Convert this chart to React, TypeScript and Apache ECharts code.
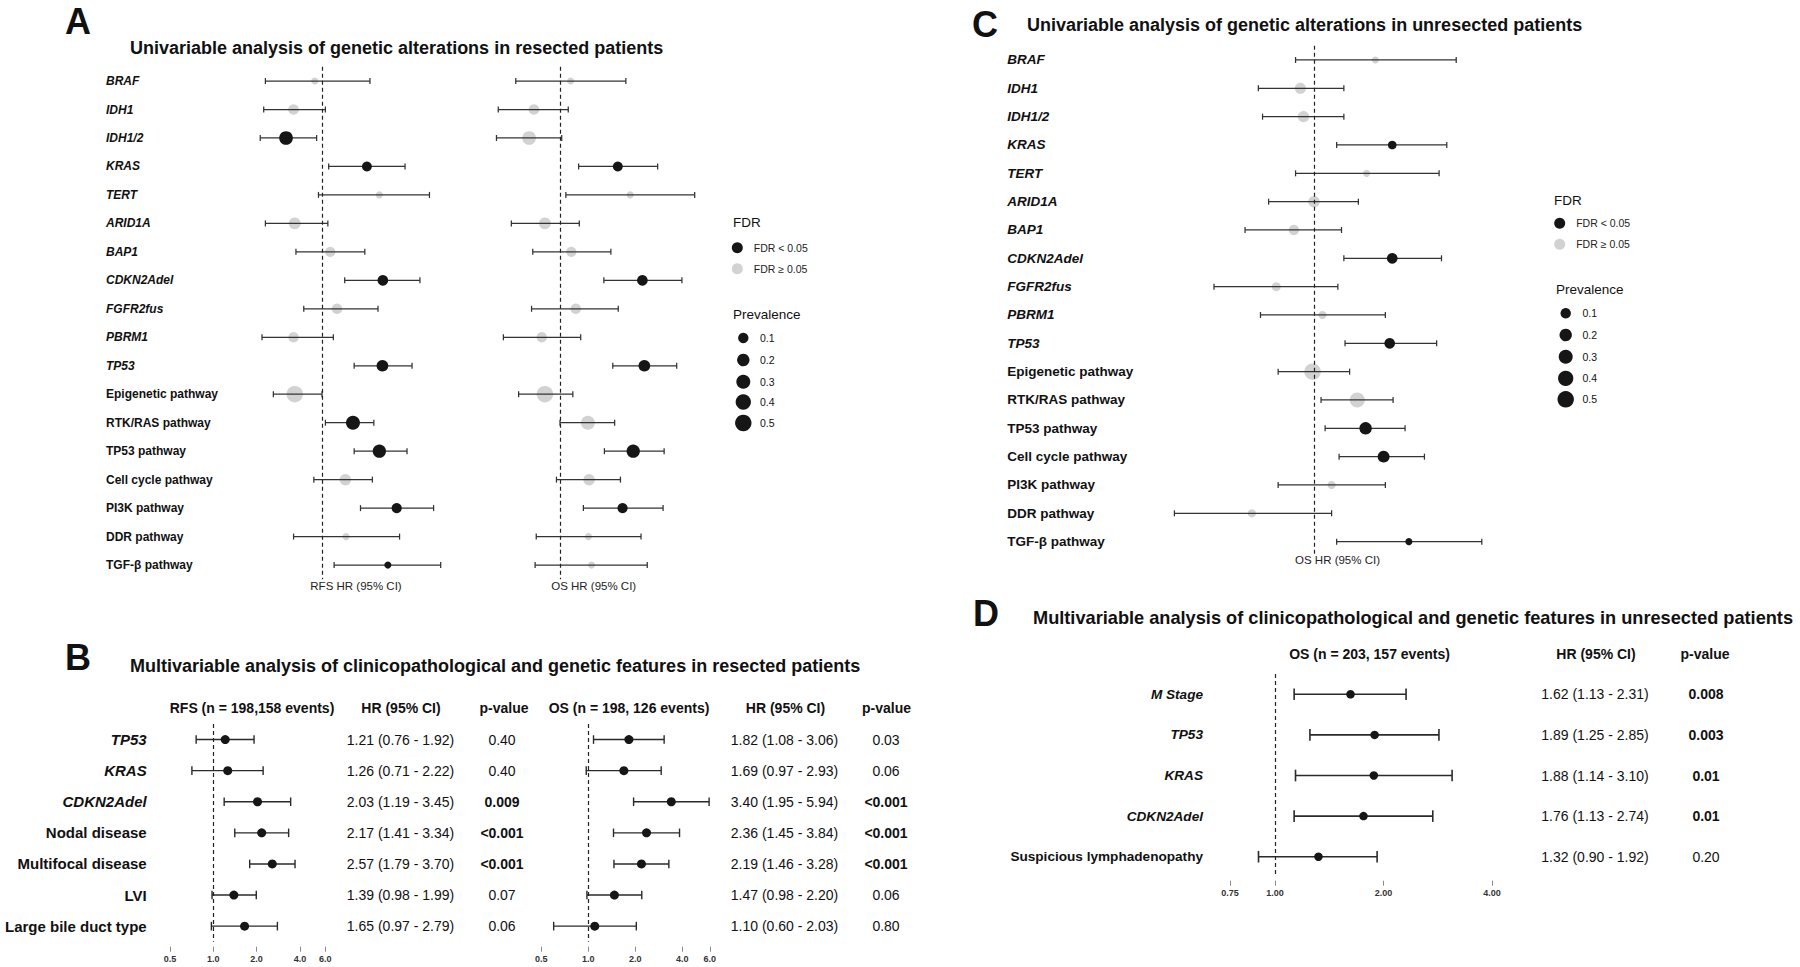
import React, { useEffect, useRef } from 'react';
import * as echarts from 'echarts';

const FONT = "'Liberation Sans', Arial, Helvetica, sans-serif";
const INK = '#111111';
const DOT_DARK = '#161616';
const DOT_GREY = '#d2d2d2';

// ---------------- Panel A : univariable, resected ----------------
const A_LABELS = ['BRAF', 'IDH1', 'IDH1/2', 'KRAS', 'TERT', 'ARID1A', 'BAP1', 'CDKN2Adel', 'FGFR2fus', 'PBRM1', 'TP53',
  'Epigenetic pathway', 'RTK/RAS pathway', 'TP53 pathway', 'Cell cycle pathway', 'PI3K pathway', 'DDR pathway', 'TGF-β pathway'];
const A_ITALIC = [1, 1, 1, 1, 1, 1, 1, 1, 1, 1, 1, 0, 0, 0, 0, 0, 0, 0];
const A_PREV = [0.01, 0.11, 0.28, 0.08, 0.01, 0.17, 0.09, 0.11, 0.1, 0.1, 0.16, 0.5, 0.3, 0.25, 0.15, 0.09, 0.01, 0.01];
const A_RFS_HR = [0.92, 0.72, 0.66, 1.68, 1.94, 0.73, 1.10, 2.02, 1.19, 0.72, 2.01, 0.73, 1.43, 1.94, 1.31, 2.37, 1.32, 2.14];
const A_RFS_LO = [0.52, 0.51, 0.49, 1.08, 0.96, 0.52, 0.74, 1.30, 0.81, 0.50, 1.45, 0.57, 1.04, 1.45, 0.91, 1.56, 0.72, 1.15];
const A_RFS_HI = [1.74, 1.04, 0.94, 2.61, 3.46, 1.07, 1.64, 3.10, 1.91, 1.14, 2.83, 1.00, 1.82, 2.67, 1.79, 3.63, 2.45, 3.94];
const A_RFS_SIG = [0, 0, 1, 1, 0, 0, 0, 1, 0, 0, 1, 0, 1, 1, 0, 1, 0, 1];
const A_OS_HR = [1.13, 0.74, 0.70, 1.95, 2.25, 0.84, 1.14, 2.59, 1.20, 0.81, 2.65, 0.84, 1.38, 2.33, 1.40, 2.06, 1.39, 1.44];
const A_OS_LO = [0.60, 0.49, 0.48, 1.24, 1.07, 0.57, 0.73, 1.66, 0.72, 0.52, 1.84, 0.62, 1.00, 1.67, 0.96, 1.31, 0.76, 0.75];
const A_OS_HI = [2.14, 1.10, 1.02, 3.09, 4.74, 1.25, 1.80, 4.09, 1.96, 1.27, 3.85, 1.16, 1.88, 3.33, 2.01, 3.29, 2.55, 2.74];
const A_OS_SIG = [0, 0, 0, 1, 0, 0, 0, 1, 0, 0, 1, 0, 0, 1, 0, 1, 0, 0];

// ---------------- Panel B : multivariable, resected ----------------
const B_LABELS = ['TP53', 'KRAS', 'CDKN2Adel', 'Nodal disease', 'Multifocal disease', 'LVI', 'Large bile duct type'];
const B_ITALIC = [1, 1, 1, 0, 0, 0, 0];
const B_RFS_HR = [1.21, 1.26, 2.03, 2.17, 2.57, 1.39, 1.65];
const B_RFS_LO = [0.76, 0.71, 1.19, 1.41, 1.79, 0.98, 0.97];
const B_RFS_HI = [1.92, 2.22, 3.45, 3.34, 3.70, 1.99, 2.79];
const B_RFS_P = ['0.40', '0.40', '0.009', '<0.001', '<0.001', '0.07', '0.06'];
const B_RFS_PBOLD = [0, 0, 1, 1, 1, 0, 0];
const B_OS_HR = [1.82, 1.69, 3.40, 2.36, 2.19, 1.47, 1.10];
const B_OS_LO = [1.08, 0.97, 1.95, 1.45, 1.46, 0.98, 0.60];
const B_OS_HI = [3.06, 2.93, 5.94, 3.84, 3.28, 2.20, 2.03];
const B_OS_P = ['0.03', '0.06', '<0.001', '<0.001', '<0.001', '0.06', '0.80'];
const B_OS_PBOLD = [0, 0, 1, 1, 1, 0, 0];
const B_TICKS = [0.5, 1, 2, 4, 6];

// ---------------- Panel C : univariable, unresected ----------------
const C_LABELS = A_LABELS;
const C_ITALIC = A_ITALIC;
const C_PREV = [0.01, 0.13, 0.14, 0.04, 0.01, 0.15, 0.1, 0.11, 0.05, 0.03, 0.11, 0.5, 0.38, 0.2, 0.17, 0.03, 0.03, 0.01];
const C_HR = [1.53, 0.91, 0.93, 1.72, 1.44, 1.00, 0.87, 1.72, 0.77, 1.06, 1.69, 0.99, 1.35, 1.43, 1.62, 1.13, 0.65, 1.93];
const C_LO = [0.88, 0.68, 0.70, 1.17, 0.88, 0.73, 0.62, 1.23, 0.50, 0.69, 1.24, 0.78, 1.05, 1.08, 1.19, 0.78, 0.38, 1.17];
const C_HI = [2.68, 1.23, 1.23, 2.51, 2.38, 1.36, 1.21, 2.42, 1.18, 1.64, 2.34, 1.28, 1.73, 1.88, 2.15, 1.64, 1.13, 3.20];
const C_SIG = [0, 0, 0, 1, 0, 0, 0, 1, 0, 0, 1, 0, 0, 1, 1, 0, 0, 1];

// ---------------- Panel D : multivariable, unresected ----------------
const D_LABELS = ['M Stage', 'TP53', 'KRAS', 'CDKN2Adel', 'Suspicious lymphadenopathy'];
const D_ITALIC = [1, 1, 1, 1, 0];
const D_HR = [1.62, 1.89, 1.88, 1.76, 1.32];
const D_LO = [1.13, 1.25, 1.14, 1.13, 0.90];
const D_HI = [2.31, 2.85, 3.10, 2.74, 1.92];
const D_P = ['0.008', '0.003', '0.01', '0.01', '0.20'];
const D_PBOLD = [1, 1, 1, 1, 0];
const D_TICKS = [0.75, 1, 2, 4];

const PREV_BREAKS = [0.1, 0.2, 0.3, 0.4, 0.5];

const sizeOf = (p: number) => 5.5 + 15.5 * Math.sqrt(p);
const hrText = (hr: number[], lo: number[], hi: number[]) =>
  hr.map((h, i) => `${h.toFixed(2)} (${lo[i].toFixed(2)} - ${hi[i].toFixed(2)})`);

function buildOption() {
  const grids: any[] = [];
  const xAxes: any[] = [];
  const yAxes: any[] = [];
  const series: any[] = [];

  function addForest(p: any) {
    const g = grids.length;
    const left = p.refX + p.k * Math.log2(p.min);
    const width = p.k * (Math.log2(p.max) - Math.log2(p.min));
    grids.push({ left, top: p.top, width, height: p.height });
    const mid = left + width / 2;
    const shift = p.xName ? p.xNameX - mid : 0;
    xAxes.push({
      type: 'log', logBase: 2, gridIndex: g, min: p.min, max: p.max, position: 'bottom',
      offset: p.tickOffset || 0,
      axisLine: { show: false }, splitLine: { show: false },
      axisTick: p.ticks
        ? { show: true, customValues: p.ticks, length: 5, lineStyle: { color: '#8a8a8a', width: 1 } }
        : { show: false },
      axisLabel: p.ticks
        ? {
          show: true, customValues: p.ticks, margin: p.tickMargin, fontSize: 9, fontWeight: 'bold',
          fontFamily: FONT, color: '#333',
          formatter: (v: any) => Number(v).toFixed(p.tickDigits),
        }
        : { show: false },
      name: p.xName || '', nameLocation: 'middle', nameGap: p.xNameGap || 0,
      nameTextStyle: {
        fontSize: 11.5, fontFamily: FONT, color: '#222',
        padding: shift >= 0 ? [0, 0, 0, 2 * shift] : [0, -2 * shift, 0, 0],
      },
    });
    const yMain = yAxes.length;
    const labStyle = (italic: boolean) => ({
      fontStyle: italic ? 'italic' : 'normal', fontWeight: 'bold', fontSize: p.labelSize, fontFamily: FONT, color: INK,
    });
    yAxes.push({
      type: 'category', gridIndex: g, inverse: true, data: p.labels, position: 'left',
      axisLine: { show: false }, axisTick: { show: false }, splitLine: { show: false },
      axisLabel: p.showLabels
        ? {
          show: true, interval: 0, margin: left - p.labelX, align: p.labelAlign,
          formatter: (v: string, i: number) => (p.italic[i] ? `{i|${v}}` : `{n|${v}}`),
          rich: { i: labStyle(true), n: labStyle(false) },
        }
        : { show: false },
    });
    (p.columns || []).forEach((col: any) => {
      yAxes.push({
        type: 'category', gridIndex: g, inverse: true, position: 'right', offset: col.center - (left + width),
        data: p.labels,
        axisLine: { show: false }, axisTick: { show: false }, splitLine: { show: false },
        axisLabel: {
          show: true, interval: 0, margin: 0, align: 'center',
          formatter: (_v: string, i: number) => (col.bold[i] ? `{b|${col.texts[i]}}` : `{n|${col.texts[i]}}`),
          rich: {
            b: { fontWeight: 'bold', fontSize: 14, fontFamily: FONT, color: INK },
            n: { fontWeight: 'normal', fontSize: 14, fontFamily: FONT, color: INK },
          },
        },
      });
    });

    const rows = p.hr.map((_h: number, i: number) => i);
    const dark = rows.filter((i: number) => !p.sig || p.sig[i]);
    const grey = rows.filter((i: number) => p.sig && !p.sig[i]);
    const sizeFor = (i: number) => (p.prev ? sizeOf(p.prev[i]) : p.dotSize);

    if (p.sig) {
      series.push({
        type: 'scatter', name: 'FDR ≥ 0.05', xAxisIndex: g, yAxisIndex: yMain, z: 1, silent: true,
        symbol: 'circle', itemStyle: { color: DOT_GREY, opacity: 1 }, emphasis: { disabled: true },
        data: grey.map((i: number) => ({ value: [p.hr[i], i], symbolSize: sizeFor(i) })),
      });
    }
    const cap = p.cap;
    const lw = p.lw;
    const stroke = p.lineColor;
    series.push({
      type: 'custom', name: 'CI', xAxisIndex: g, yAxisIndex: yMain, z: 2, silent: true,
      encode: { x: [0, 1], y: 2 },
      data: rows.map((i: number) => [p.lo[i], p.hi[i], i]),
      renderItem: (_params: any, api: any) => {
        const row = api.value(2);
        const a = api.coord([api.value(0), row]);
        const b = api.coord([api.value(1), row]);
        const style = { stroke, lineWidth: lw, fill: 'none' };
        return {
          type: 'group',
          children: [
            { type: 'line', shape: { x1: a[0], y1: a[1], x2: b[0], y2: b[1] }, style },
            { type: 'line', shape: { x1: a[0], y1: a[1] - cap, x2: a[0], y2: a[1] + cap }, style },
            { type: 'line', shape: { x1: b[0], y1: b[1] - cap, x2: b[0], y2: b[1] + cap }, style },
          ],
        };
      },
    });
    series.push({
      type: 'scatter', name: p.sig ? 'FDR < 0.05' : 'HR', xAxisIndex: g, yAxisIndex: yMain, z: 3, silent: true,
      symbol: 'circle', itemStyle: { color: DOT_DARK, opacity: 1 }, emphasis: { disabled: true },
      data: dark.map((i: number) => ({ value: [p.hr[i], i], symbolSize: sizeFor(i) })),
      markLine: {
        silent: true, symbol: ['none', 'none'], label: { show: false }, emphasis: { disabled: true },
        lineStyle: { color: '#222', width: 1.2, type: [4, 3] },
        data: [{ xAxis: 1 }],
      },
    });
  }

  // Panel A
  addForest({
    refX: 322, k: 60, min: 0.25, max: 8, top: 66.8, height: 512.5,
    labels: A_LABELS, italic: A_ITALIC, showLabels: true, labelX: 106, labelAlign: 'left', labelSize: 12,
    hr: A_RFS_HR, lo: A_RFS_LO, hi: A_RFS_HI, sig: A_RFS_SIG, prev: A_PREV,
    cap: 3, lw: 1.25, lineColor: '#333333',
    xName: 'RFS HR (95% CI)', xNameX: 356, xNameGap: 1,
  });
  addForest({
    refX: 560, k: 60, min: 0.25, max: 8, top: 66.8, height: 512.5,
    labels: A_LABELS, italic: A_ITALIC, showLabels: false,
    hr: A_OS_HR, lo: A_OS_LO, hi: A_OS_HI, sig: A_OS_SIG, prev: A_PREV,
    cap: 3, lw: 1.25, lineColor: '#333333',
    xName: 'OS HR (95% CI)', xNameX: 593.7, xNameGap: 1,
  });
  // Panel B
  addForest({
    refX: 213.3, k: 43.3, min: 0.4, max: 7, top: 724, height: 217.7,
    labels: B_LABELS, italic: B_ITALIC, showLabels: true, labelX: 146.7, labelAlign: 'right', labelSize: 15,
    hr: B_RFS_HR, lo: B_RFS_LO, hi: B_RFS_HI, dotSize: 9,
    cap: 4.3, lw: 1.4, lineColor: '#2a2a2a',
    ticks: B_TICKS, tickDigits: 1, tickOffset: 5, tickMargin: 8.2,
    columns: [
      { center: 400.5, texts: hrText(B_RFS_HR, B_RFS_LO, B_RFS_HI), bold: B_RFS_HR.map(() => 0) },
      { center: 502, texts: B_RFS_P, bold: B_RFS_PBOLD },
    ],
  });
  addForest({
    refX: 588.3, k: 47, min: 0.4, max: 7, top: 724, height: 217.7,
    labels: B_LABELS, italic: B_ITALIC, showLabels: false,
    hr: B_OS_HR, lo: B_OS_LO, hi: B_OS_HI, dotSize: 9,
    cap: 4.3, lw: 1.4, lineColor: '#2a2a2a',
    ticks: B_TICKS, tickDigits: 1, tickOffset: 5, tickMargin: 8.2,
    columns: [
      { center: 784.5, texts: hrText(B_OS_HR, B_OS_LO, B_OS_HI), bold: B_OS_HR.map(() => 0) },
      { center: 886, texts: B_OS_P, bold: B_OS_PBOLD },
    ],
  });
  // Panel C
  addForest({
    refX: 1314, k: 100, min: 0.35, max: 3.5, top: 45.83, height: 510,
    labels: C_LABELS, italic: C_ITALIC, showLabels: true, labelX: 1007.3, labelAlign: 'left', labelSize: 13.5,
    hr: C_HR, lo: C_LO, hi: C_HI, sig: C_SIG, prev: C_PREV,
    cap: 3, lw: 1.25, lineColor: '#333333',
    xName: 'OS HR (95% CI)', xNameX: 1337.5, xNameGap: -1.6,
  });
  // Panel D
  addForest({
    refX: 1275, k: 108.5, min: 0.7, max: 4.3, top: 674, height: 203,
    labels: D_LABELS, italic: D_ITALIC, showLabels: true, labelX: 1203, labelAlign: 'right', labelSize: 13.6,
    hr: D_HR, lo: D_LO, hi: D_HI, dotSize: 8.5,
    cap: 5.8, lw: 1.6, lineColor: '#2a2a2a',
    ticks: D_TICKS, tickDigits: 2, tickOffset: 3.7, tickMargin: 7.8,
    columns: [
      { center: 1595, texts: hrText(D_HR, D_LO, D_HI), bold: D_HR.map(() => 0) },
      { center: 1706, texts: D_P, bold: D_PBOLD },
    ],
  });

  const txt = (text: string, x: number, y: number, size: number, weight = 'normal', align = 'left') => ({
    type: 'text', x, y, silent: true,
    style: { text, fontSize: size, fontWeight: weight, fontFamily: FONT, fill: INK, align, verticalAlign: 'middle' },
  });

  const graphic: any[] = [
    txt('A', 65, 21, 36, 'bold'),
    txt('B', 65, 657, 36, 'bold'),
    txt('C', 972, 24, 36, 'bold'),
    txt('D', 973, 613, 36, 'bold'),
    txt('Univariable analysis of genetic alterations in resected patients', 130, 48, 18, 'bold'),
    txt('Multivariable analysis of clinicopathological and genetic features in resected patients', 130, 666, 18, 'bold'),
    txt('Univariable analysis of genetic alterations in unresected patients', 1027, 25, 18, 'bold'),
    txt('Multivariable analysis of clinicopathological and genetic features in unresected patients', 1033, 618, 18.2, 'bold'),
    txt('RFS (n = 198,158 events)', 252, 707.7, 14, 'bold', 'center'),
    txt('HR (95% CI)', 401, 707.7, 14, 'bold', 'center'),
    txt('p-value', 504, 707.7, 14, 'bold', 'center'),
    txt('OS (n = 198, 126 events)', 629, 707.7, 14, 'bold', 'center'),
    txt('HR (95% CI)', 785.5, 707.7, 14, 'bold', 'center'),
    txt('p-value', 886.5, 707.7, 14, 'bold', 'center'),
    txt('OS (n = 203, 157 events)', 1369.5, 654, 14, 'bold', 'center'),
    txt('HR (95% CI)', 1596, 654, 14, 'bold', 'center'),
    txt('p-value', 1705, 654, 14, 'bold', 'center'),
    txt('FDR', 733, 222.7, 13.5),
    txt('Prevalence', 733, 314, 13.5),
    txt('FDR', 1554, 200.7, 13.5),
    txt('Prevalence', 1556, 289, 13.5),
  ];
  const prevLegend = (cx: number, tx: number, ys: number[]) => {
    PREV_BREAKS.forEach((p, i) => {
      graphic.push({
        type: 'circle', silent: true,
        shape: { cx, cy: ys[i], r: sizeOf(p) / 2 },
        style: { fill: DOT_DARK },
      });
      graphic.push(txt(String(p), tx, ys[i], 10.5));
    });
  };
  prevLegend(743.3, 760, [338, 360, 381.7, 402, 423]);
  prevLegend(1565.7, 1582.5, [313.3, 335, 356.7, 378.3, 399.3]);

  const legendBase = {
    orient: 'vertical', itemWidth: 23, itemHeight: 11, itemGap: 10, padding: 0, selectedMode: false,
    textStyle: { fontSize: 10.5, fontFamily: FONT, color: '#222' },
    data: [
      { name: 'FDR < 0.05', icon: 'circle', itemStyle: { color: DOT_DARK, opacity: 1 } },
      { name: 'FDR ≥ 0.05', icon: 'circle', itemStyle: { color: DOT_GREY, opacity: 1 } },
    ],
  };

  return {
    animation: false,
    backgroundColor: '#ffffff',
    textStyle: { fontFamily: FONT },
    grid: grids,
    xAxis: xAxes,
    yAxis: yAxes,
    series,
    legend: [
      { ...legendBase, left: 731.8, top: 242.2 },
      { ...legendBase, left: 1554.2, top: 217.8 },
    ],
    graphic,
  };
}

export default function App() {
  const ref = useRef<HTMLDivElement>(null);
  useEffect(() => {
    if (!ref.current) return;
    const chart = echarts.init(ref.current, undefined, { renderer: 'svg' });
    chart.setOption(buildOption() as any);
    return () => chart.dispose();
  }, []);
  return (
    <div
      ref={ref}
      style={{ position: 'fixed', left: 0, top: 0, width: 1800, height: 967, background: '#fff' }}
    />
  );
}
